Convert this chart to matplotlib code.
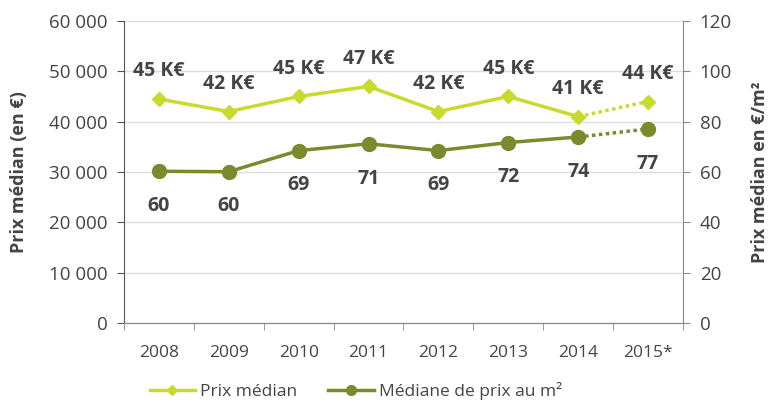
import numpy as np
import matplotlib.pyplot as plt
from matplotlib.ticker import FuncFormatter, FixedLocator
from matplotlib.lines import Line2D

plt.rcParams['font.family'] = ['Open Sans', 'DejaVu Sans']

years = ["2008", "2009", "2010", "2011", "2012", "2013", "2014", "2015*"]
prix_median = [44500, 42000, 45000, 47000, 42000, 45000, 41000, 44000]
prix_labels = ["45 K€", "42 K€", "45 K€", "47 K€", "42 K€", "45 K€", "41 K€", "44 K€"]
prix_m2 = [60.3, 60.1, 68.5, 71.2, 68.5, 71.7, 73.9, 77.1]
m2_labels = ["60", "60", "69", "71", "69", "72", "74", "77"]

light = "#c9da2f"
dark = "#7b8a2c"
txt = "#444444"

fig = plt.figure(figsize=(7.7, 4.03), dpi=100)
ax = fig.add_axes([0.161, 0.1985, 0.726, 0.7495])
ax2 = ax.twinx()

x = np.arange(len(years))
ax.plot(x[:-1], prix_median[:-1], color=light, lw=2.5, marker="D", ms=7, zorder=3)
ax.plot(x[-2:], prix_median[-2:], color=light, lw=2.5, ls=(0, (1, 1)), marker="D", ms=7,
        markevery=[1], zorder=3)
ax2.plot(x[:-1], prix_m2[:-1], color=dark, lw=2.5, marker="o", ms=10, zorder=3)
ax2.plot(x[-2:], prix_m2[-2:], color=dark, lw=2.5, ls=(0, (1, 1)), marker="o", ms=10,
         markevery=[1], zorder=3)

for i in x:
    ax.annotate(prix_labels[i], (i, prix_median[i]), xytext=(0, 20), textcoords="offset points",
                ha="center", va="center", fontsize=14, fontweight="bold", color=txt)
    ax2.annotate(m2_labels[i], (i, prix_m2[i]), xytext=(0, -25), textcoords="offset points",
                 ha="center", va="center", fontsize=14, fontweight="bold", color=txt)

ax.set_xlim(-0.5, len(years) - 0.5)
ax.set_ylim(0, 60000)
ax2.set_ylim(0, 120)
ax.set_yticks(np.arange(0, 60001, 10000))
ax2.set_yticks(np.arange(0, 121, 20))
ax.yaxis.set_major_formatter(FuncFormatter(lambda v, p: "{:,}".format(int(v)).replace(",", " ")))

ax.set_xticks(x)
ax.set_xticklabels(years)
ax.xaxis.set_minor_locator(FixedLocator(np.arange(-0.5, len(years), 1)))
ax.tick_params(axis="x", which="major", length=0, pad=16, labelsize=12.5, colors=txt)
ax.tick_params(axis="x", which="minor", length=5, color="#888888", direction="out")
ax.tick_params(axis="y", length=5, color="#555555", labelsize=13.5, labelcolor=txt, pad=7)
ax2.tick_params(axis="y", length=5, color="#888888", labelsize=13.5, labelcolor=txt, pad=7)

ax.grid(axis="y", color="#dddddd", lw=1)
ax.set_axisbelow(True)
ax.spines["top"].set_visible(False)
ax2.spines["top"].set_visible(False)
ax.spines["left"].set_color("#555555")
ax2.spines["left"].set_visible(False)
ax.spines["bottom"].set_color("#888888")
ax2.spines["bottom"].set_color("#888888")
ax2.spines["right"].set_color("#888888")
ax.spines["right"].set_visible(False)

ax.set_ylabel("Prix médian (en €)", fontsize=13, fontweight="bold", color=txt)
ax.yaxis.set_label_coords(-0.172, 0.5)
ax2.set_ylabel("Prix médian en €/m²", fontsize=13, fontweight="bold", color=txt)
ax2.yaxis.set_label_coords(1.122, 0.5)

handles = [
    Line2D([], [], color=light, lw=2.5, marker="D", ms=5),
    Line2D([], [], color=dark, lw=2.5, marker="o", ms=7),
]
fig.legend(handles, ["Prix médian", "Médiane de prix au m²"], loc="center",
           bbox_to_anchor=(0.462, 0.03), ncol=2, frameon=False, fontsize=12.5,
           labelcolor=txt, handlelength=2.6, columnspacing=1.8, handletextpad=0.3)

fig.savefig("out.png", dpi=100)
